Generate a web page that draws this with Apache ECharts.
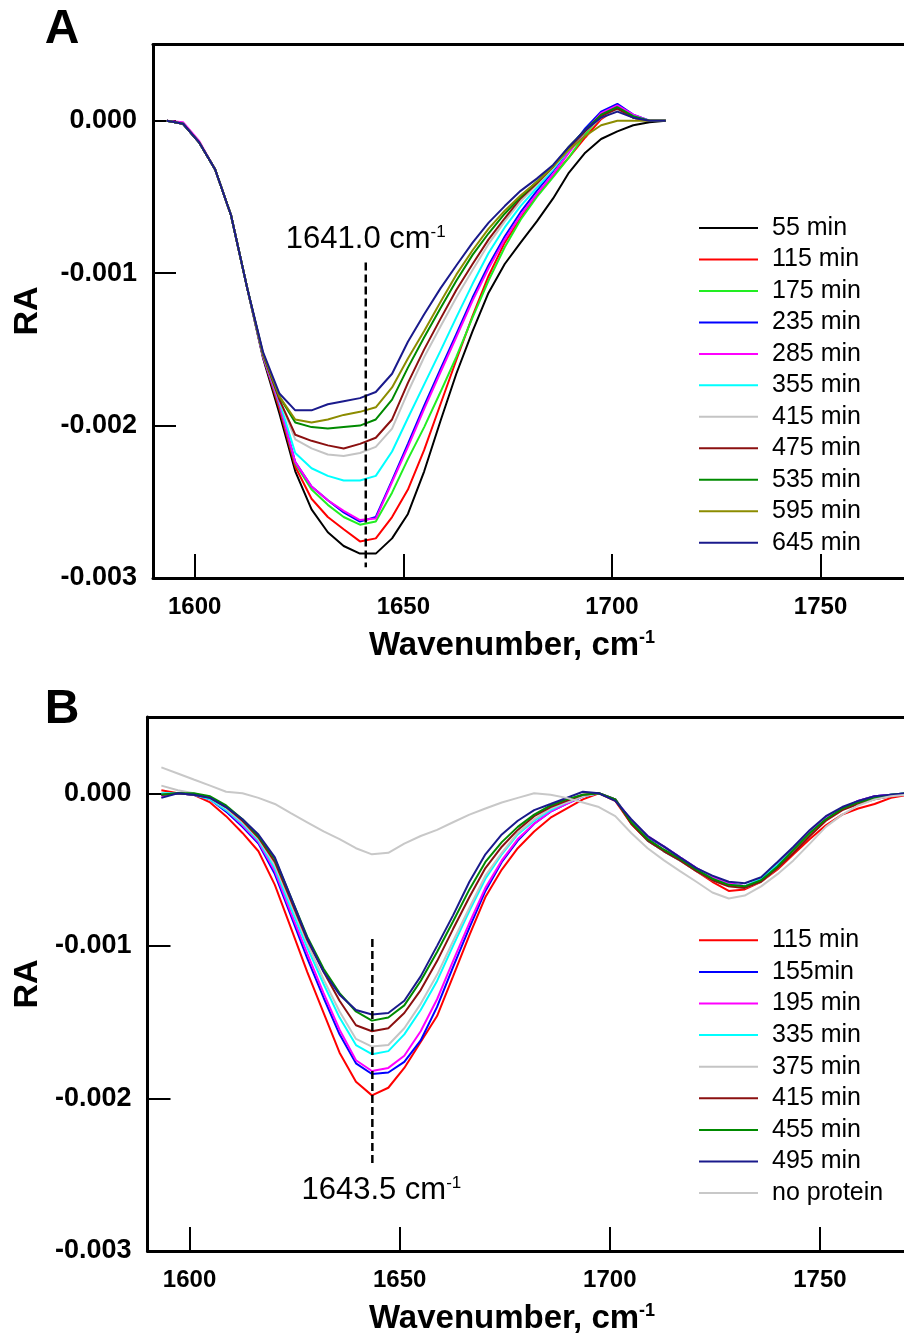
<!DOCTYPE html>
<html><head><meta charset="utf-8">
<script src="https://cdn.jsdelivr.net/npm/echarts@6/dist/echarts.min.js"></script>
<style>html,body{margin:0;padding:0;background:#fff}#c{width:904px;height:1339px}</style>
</head><body><div id="c"></div>
<script>
// ---- Panel A data (RA values in units of 1e-3) ----
const wavenumbersA = [1593.3,1597.2,1601.0,1604.9,1608.7,1612.6,1616.4,1620.3,1624.1,1628.0,1631.9,1635.7,1639.6,1643.4,1647.3,1651.1,1655.0,1658.9,1662.7,1666.6,1670.4,1674.3,1678.1,1682.0,1685.9,1689.7,1693.6,1697.4,1701.3,1705.1,1709.0,1712.9];
const a55  = [0,-0.02,-0.14,-0.32,-0.62,-1.10,-1.56,-1.92,-2.30,-2.55,-2.70,-2.79,-2.84,-2.84,-2.74,-2.58,-2.30,-1.97,-1.66,-1.38,-1.13,-0.94,-0.80,-0.66,-0.51,-0.34,-0.21,-0.12,-0.07,-0.03,-0.01,0];
const a115 = [0,-0.02,-0.14,-0.32,-0.62,-1.10,-1.55,-1.89,-2.27,-2.48,-2.60,-2.68,-2.76,-2.74,-2.60,-2.42,-2.16,-1.86,-1.57,-1.28,-1.02,-0.80,-0.64,-0.49,-0.36,-0.24,-0.11,0.01,0.08,0.02,0.00,0];
const a175 = [0,-0.02,-0.14,-0.32,-0.62,-1.10,-1.55,-1.87,-2.25,-2.42,-2.52,-2.60,-2.65,-2.63,-2.44,-2.22,-2.01,-1.78,-1.55,-1.29,-1.05,-0.83,-0.65,-0.50,-0.37,-0.24,-0.09,0.03,0.08,0.03,0.00,0];
const a235 = [0,-0.02,-0.14,-0.32,-0.62,-1.10,-1.55,-1.86,-2.24,-2.40,-2.49,-2.57,-2.63,-2.60,-2.36,-2.12,-1.87,-1.63,-1.40,-1.16,-0.95,-0.76,-0.60,-0.46,-0.33,-0.19,-0.05,0.06,0.11,0.04,0.00,0];
const a285 = [0,-0.01,-0.13,-0.32,-0.62,-1.10,-1.55,-1.86,-2.24,-2.40,-2.49,-2.56,-2.62,-2.61,-2.37,-2.14,-1.89,-1.65,-1.42,-1.18,-0.97,-0.78,-0.62,-0.48,-0.35,-0.21,-0.07,0.05,0.10,0.04,0.00,0];
const a355 = [0,-0.02,-0.14,-0.32,-0.62,-1.10,-1.54,-1.84,-2.18,-2.28,-2.33,-2.36,-2.36,-2.33,-2.17,-1.95,-1.73,-1.51,-1.29,-1.07,-0.87,-0.70,-0.56,-0.44,-0.32,-0.19,-0.07,0.03,0.08,0.03,0.00,0];
const a415 = [0,-0.02,-0.14,-0.32,-0.62,-1.10,-1.54,-1.83,-2.09,-2.15,-2.19,-2.20,-2.18,-2.14,-2.02,-1.78,-1.55,-1.35,-1.16,-0.98,-0.81,-0.66,-0.53,-0.42,-0.31,-0.18,-0.07,0.02,0.07,0.02,0.00,0];
const a475 = [0,-0.02,-0.14,-0.32,-0.62,-1.10,-1.54,-1.83,-2.06,-2.10,-2.13,-2.15,-2.12,-2.08,-1.96,-1.72,-1.50,-1.30,-1.11,-0.94,-0.78,-0.64,-0.51,-0.41,-0.30,-0.18,-0.07,0.03,0.08,0.02,0.00,0];
const a535 = [0,-0.02,-0.14,-0.32,-0.62,-1.10,-1.53,-1.81,-1.98,-2.01,-2.02,-2.01,-2.00,-1.96,-1.83,-1.62,-1.42,-1.23,-1.05,-0.88,-0.74,-0.61,-0.50,-0.40,-0.30,-0.17,-0.06,0.04,0.09,0.03,0.00,0];
const a595 = [0,-0.02,-0.14,-0.32,-0.62,-1.10,-1.53,-1.81,-1.96,-1.98,-1.96,-1.93,-1.91,-1.88,-1.75,-1.56,-1.38,-1.19,-1.01,-0.85,-0.71,-0.59,-0.49,-0.40,-0.30,-0.19,-0.10,-0.03,0.00,0.00,0.00,0];
const a645 = [0,-0.02,-0.14,-0.32,-0.62,-1.10,-1.52,-1.79,-1.90,-1.90,-1.86,-1.84,-1.82,-1.78,-1.66,-1.45,-1.27,-1.10,-0.95,-0.80,-0.67,-0.56,-0.46,-0.38,-0.29,-0.17,-0.06,0.02,0.06,0.02,0.00,0];
const namesA = ['55 min','115 min','175 min','235 min','285 min','355 min','415 min','475 min','535 min','595 min','645 min'];
const valuesA = [a55,a115,a175,a235,a285,a355,a415,a475,a535,a595,a645];
const markerA = {wavenumber:[1641.0,1641.0], ra:[-0.93,-2.93], label:'1641.0'};

// ---- Panel B data (RA values in units of 1e-3) ----
const wavenumbersB = [1593.3,1597.2,1601.0,1604.9,1608.7,1612.6,1616.4,1620.3,1624.1,1628.0,1631.9,1635.7,1639.6,1643.4,1647.3,1651.1,1655.0,1658.9,1662.7,1666.6,1670.4,1674.3,1678.1,1682.0,1685.9,1689.7,1693.6,1697.4,1701.3,1705.1,1709.0,1712.9,1716.7,1720.6,1724.4,1728.3,1732.1,1736.0,1739.9,1743.7,1747.6,1751.4,1755.3,1759.1,1763.0,1766.9,1770.7];
const b115 = [0.02,0.0,-0.01,-0.06,-0.15,-0.26,-0.38,-0.60,-0.88,-1.17,-1.44,-1.70,-1.89,-1.98,-1.93,-1.80,-1.63,-1.46,-1.20,-0.93,-0.68,-0.50,-0.36,-0.25,-0.16,-0.10,-0.04,0.0,-0.05,-0.20,-0.31,-0.38,-0.44,-0.51,-0.58,-0.64,-0.63,-0.58,-0.50,-0.40,-0.30,-0.21,-0.14,-0.10,-0.07,-0.03,-0.01];
const b155 = [-0.01,0.0,-0.01,-0.04,-0.12,-0.22,-0.33,-0.53,-0.80,-1.08,-1.34,-1.58,-1.77,-1.84,-1.83,-1.76,-1.62,-1.40,-1.14,-0.88,-0.64,-0.45,-0.31,-0.20,-0.12,-0.07,-0.02,0.0,-0.04,-0.18,-0.29,-0.35,-0.42,-0.49,-0.55,-0.59,-0.61,-0.57,-0.47,-0.36,-0.25,-0.16,-0.10,-0.05,-0.02,-0.01,0];
const b195 = [-0.02,0.0,-0.01,-0.04,-0.11,-0.21,-0.32,-0.51,-0.78,-1.05,-1.31,-1.55,-1.75,-1.82,-1.80,-1.72,-1.56,-1.35,-1.10,-0.85,-0.62,-0.44,-0.30,-0.20,-0.12,-0.07,-0.02,0.0,-0.04,-0.18,-0.28,-0.35,-0.42,-0.49,-0.55,-0.59,-0.61,-0.57,-0.47,-0.36,-0.25,-0.16,-0.10,-0.05,-0.02,-0.01,0];
const b335 = [0.0,0.0,-0.01,-0.04,-0.11,-0.20,-0.31,-0.49,-0.75,-1.01,-1.25,-1.47,-1.65,-1.71,-1.69,-1.58,-1.42,-1.23,-1.00,-0.77,-0.56,-0.40,-0.27,-0.18,-0.11,-0.06,-0.02,0.0,-0.04,-0.19,-0.31,-0.38,-0.44,-0.50,-0.56,-0.60,-0.61,-0.56,-0.47,-0.37,-0.26,-0.17,-0.10,-0.06,-0.03,-0.01,0];
const b375 = [0.05,0.02,0.0,-0.03,-0.10,-0.19,-0.30,-0.47,-0.72,-0.98,-1.22,-1.43,-1.61,-1.66,-1.65,-1.54,-1.38,-1.19,-0.97,-0.75,-0.54,-0.39,-0.26,-0.17,-0.10,-0.06,-0.02,0.0,-0.04,-0.19,-0.30,-0.37,-0.44,-0.51,-0.57,-0.61,-0.62,-0.58,-0.49,-0.38,-0.27,-0.18,-0.11,-0.06,-0.03,-0.01,0];
const b415 = [-0.01,0.0,-0.01,-0.03,-0.09,-0.18,-0.29,-0.45,-0.70,-0.96,-1.17,-1.36,-1.52,-1.56,-1.54,-1.44,-1.29,-1.10,-0.89,-0.68,-0.49,-0.35,-0.24,-0.15,-0.09,-0.05,-0.01,0.0,-0.04,-0.20,-0.31,-0.38,-0.44,-0.51,-0.57,-0.61,-0.62,-0.58,-0.49,-0.39,-0.28,-0.18,-0.11,-0.07,-0.04,-0.02,0];
const b455 = [-0.01,0.0,0.0,-0.02,-0.08,-0.17,-0.28,-0.43,-0.68,-0.94,-1.15,-1.31,-1.43,-1.49,-1.47,-1.39,-1.23,-1.04,-0.84,-0.63,-0.45,-0.32,-0.22,-0.14,-0.08,-0.04,-0.01,0.0,-0.04,-0.19,-0.30,-0.37,-0.43,-0.50,-0.56,-0.60,-0.61,-0.57,-0.48,-0.37,-0.26,-0.17,-0.10,-0.06,-0.03,-0.01,0];
const b495 = [-0.03,0.0,-0.01,-0.03,-0.09,-0.17,-0.27,-0.42,-0.68,-0.95,-1.17,-1.32,-1.42,-1.45,-1.44,-1.36,-1.20,-1.00,-0.80,-0.58,-0.40,-0.27,-0.18,-0.11,-0.07,-0.03,0.01,0.0,-0.05,-0.17,-0.28,-0.35,-0.42,-0.49,-0.54,-0.58,-0.59,-0.55,-0.45,-0.35,-0.24,-0.15,-0.09,-0.05,-0.02,-0.01,0];
const bNoProtein = [0.17,0.13,0.09,0.05,0.01,0.0,-0.03,-0.07,-0.13,-0.19,-0.25,-0.30,-0.36,-0.40,-0.39,-0.33,-0.28,-0.24,-0.19,-0.14,-0.10,-0.06,-0.03,0.0,-0.01,-0.03,-0.06,-0.09,-0.15,-0.26,-0.36,-0.44,-0.51,-0.58,-0.65,-0.69,-0.67,-0.61,-0.53,-0.44,-0.33,-0.22,-0.14,-0.08,-0.04,-0.02,-0.01];
const namesB = ['115 min','155min','195 min','335 min','375 min','415 min','455 min','495 min','no protein'];
const valuesB = [b115,b155,b195,b335,b375,b415,b455,b495,bNoProtein];
const markerB = {wavenumber:[1643.5,1643.5], ra:[-0.955,-2.45], label:'1643.5'};

// ---- axis ticks ----
const xTicks = [1600,1650,1700,1750];
const yTicks = [-3,-2,-1,0];

// ---- styles ----
const colorsA = ['#000000','#ff0000','#22ee22','#0000ff','#ff00ff','#00ffff','#c4c4c4','#8b1010','#008a00','#8c8c00','#1a1a8c'];
const colorsB = ['#ff0000','#0000ff','#ff00ff','#00ffff','#c4c4c4','#8b1010','#008a00','#1a1a8c','#c8c8c8'];
const FF = '"Liberation Sans", Arial, Helvetica, sans-serif';

function zip(xs, ys){ return xs.map((x,i)=>[x, ys[i]]); }

function xAxisMain(g){
  return {type:'value', gridIndex:g, min:1590, max:1770,
    axisLine:{show:true,onZero:false,lineStyle:{color:'#000',width:3}},
    axisTick:{show:true,inside:true,length:24,customValues:xTicks,lineStyle:{color:'#000',width:2}},
    axisLabel:{show:true,customValues:xTicks,formatter:v=>String(v),fontFamily:FF,fontWeight:'bold',fontSize:24,color:'#000',margin:17},
    splitLine:{show:false}};
}
function xAxisTop(g){
  return {type:'value', gridIndex:g, position:'top', min:1590, max:1770,
    axisLine:{show:true,onZero:false,lineStyle:{color:'#000',width:3}},
    axisTick:{show:false}, axisLabel:{show:false}, splitLine:{show:false}};
}
function yAxisMain(g){
  return {type:'value', gridIndex:g, min:-3, max:0.5,
    axisLine:{show:true,onZero:false,lineStyle:{color:'#000',width:3}},
    axisTick:{show:true,inside:true,length:23,customValues:yTicks,lineStyle:{color:'#000',width:2}},
    axisLabel:{show:true,customValues:yTicks,formatter:v=>(v/1000).toFixed(3),fontFamily:FF,fontWeight:'bold',fontSize:27,color:'#000',margin:16},
    splitLine:{show:false}};
}

const series = [];
valuesA.forEach((vals,i)=>{
  series.push({type:'line', name:'A:'+namesA[i], xAxisIndex:0, yAxisIndex:0, data:zip(wavenumbersA, vals),
    symbol:'none', showSymbol:false, lineStyle:{width:2,color:colorsA[i]}, itemStyle:{color:colorsA[i]}, silent:true, z:2});
});
valuesB.forEach((vals,i)=>{
  series.push({type:'line', name:'B:'+namesB[i], xAxisIndex:2, yAxisIndex:1, data:zip(wavenumbersB, vals),
    symbol:'none', showSymbol:false, lineStyle:{width:2,color:colorsB[i]}, itemStyle:{color:colorsB[i]}, silent:true, z:2});
});
function markerSeries(m, xi, yi, pos, offset){
  series.push({type:'line', name:'marker', xAxisIndex:xi, yAxisIndex:yi, data:zip(m.wavenumber, m.ra),
    symbol:'none', lineStyle:{width:2.5,color:'#000',type:[8,4]}, silent:true, z:3});
  const idx = pos==='top' ? 0 : 1;
  series.push({type:'scatter', name:'markerLabel', xAxisIndex:xi, yAxisIndex:yi,
    data:[[m.wavenumber[idx], m.ra[idx]]], symbolSize:0, silent:true, z:4,
    itemStyle:{opacity:1, color:'#000'},
    label:{show:true, position:pos, distance:8, offset:offset, formatter:m.label+' cm{sup|-1}',
      fontFamily:FF, fontSize:31, color:'#000', opacity:1,
      rich:{sup:{fontFamily:FF, fontSize:17, color:'#000', verticalAlign:'top', lineHeight:31}}}});
}
markerSeries(markerA, 0, 0, 'top', [0,0]);
markerSeries(markerB, 2, 1, 'bottom', [9,0]);

function legendFor(prefix, names, top, gap){
  return {data:names.map(n=>prefix+n), orient:'vertical', left:699, top:top, padding:0,
    itemWidth:59, itemHeight:2, icon:'rect', itemGap:gap, selectedMode:false,
    itemStyle:{borderWidth:0},
    formatter:n=>n.slice(2),
    textStyle:{fontFamily:FF, fontSize:25, color:'#000', lineHeight:25, padding:[0,0,0,9]}};
}

const titleStyle = {fontFamily:FF, fontWeight:'bold', fill:'#000'};
function xTitle(y){
  return {type:'text', x:512, y:y, silent:true,
    style:Object.assign({text:'Wavenumber, cm{sup|-1}', fontSize:33, align:'center', verticalAlign:'middle', lineHeight:33,
      rich:{sup:{fontFamily:FF, fontWeight:'bold', fontSize:18, fill:'#000', verticalAlign:'top', lineHeight:33}}}, titleStyle)};
}
function yTitle(y){
  return {type:'text', x:28, y:y, rotation:Math.PI/2, silent:true,
    style:Object.assign({text:'RA', fontSize:34, align:'center', verticalAlign:'middle'}, titleStyle)};
}
function panelLetter(t, y){
  return {type:'text', x:62, y:y, silent:true,
    style:{text:t, fontFamily:FF, fontWeight:'bold', fontSize:48, fill:'#000', align:'center', verticalAlign:'middle'}};
}

const chart = echarts.init(document.getElementById('c'));
chart.setOption({
  animation:false,
  backgroundColor:'#fff',
  grid:[
    {left:153, top:44.5, width:762, height:533.5},
    {left:147.5, top:717, width:765.5, height:534}
  ],
  xAxis:[xAxisMain(0), xAxisTop(0), xAxisMain(1), xAxisTop(1)],
  yAxis:[yAxisMain(0), yAxisMain(1)],
  legend:[legendFor('A:', namesA, 215.5, 6.47), legendFor('B:', namesB, 927.8, 6.6)],
  graphic:[panelLetter('A', 30), panelLetter('B', 710), yTitle(311), yTitle(984), xTitle(646), xTitle(1319)],
  series:series
});
</script></body></html>
